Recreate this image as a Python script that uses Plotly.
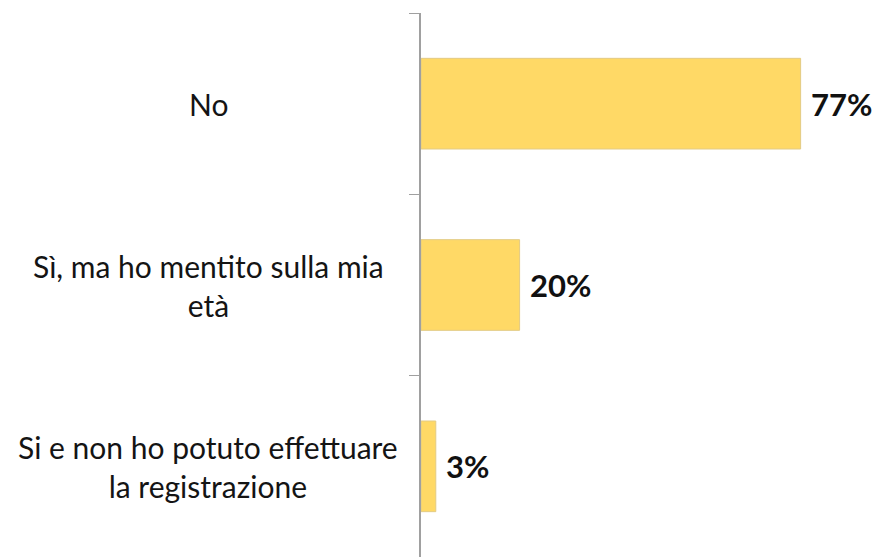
import plotly.graph_objects as go

categories = ["No", "Sì, ma ho mentito sulla mia<br>età", "Si e non ho potuto effettuare<br>la registrazione"]
values = [77, 20, 3]
value_labels = ["77%", "20%", "3%"]

fig = go.Figure()
fig.add_trace(go.Bar(
    x=values,
    y=categories,
    orientation="h",
    marker=dict(color="#FFD966", line=dict(color="#E3CB84", width=1)),
    hoverinfo="skip",
))

# value labels just right of each bar end
for cat, v, lab in zip(categories, values, value_labels):
    fig.add_annotation(
        x=v, y=cat, xref="x", yref="y", text=f"<b>{lab}</b>",
        showarrow=False, xanchor="left", xshift=8,
        font=dict(family="Lato", size=31, color="#111111"),
    )
    # category label, centred in the left margin
    fig.add_annotation(
        x=-0.465, y=cat, xref="paper", yref="y", text=cat,
        showarrow=False, xanchor="center", align="center",
        font=dict(family="Lato", size=30, color="#141414"),
    )

fig.update_layout(
    width=879, height=559,
    margin=dict(l=421, r=0, t=13, b=2),
    paper_bgcolor="white", plot_bgcolor="white",
    showlegend=False,
    bargap=0.5,
    xaxis=dict(range=[0, 92.9], visible=False, fixedrange=True),
    yaxis=dict(
        autorange="reversed", showticklabels=False,
        showline=True, linecolor="#A0A0A0", linewidth=2,
        ticks="outside", ticklen=10, tickcolor="#A0A0A0", tickwidth=1,
        tickson="boundaries", showgrid=False, zeroline=False,
    ),
)

fig.write_html("out.html")
